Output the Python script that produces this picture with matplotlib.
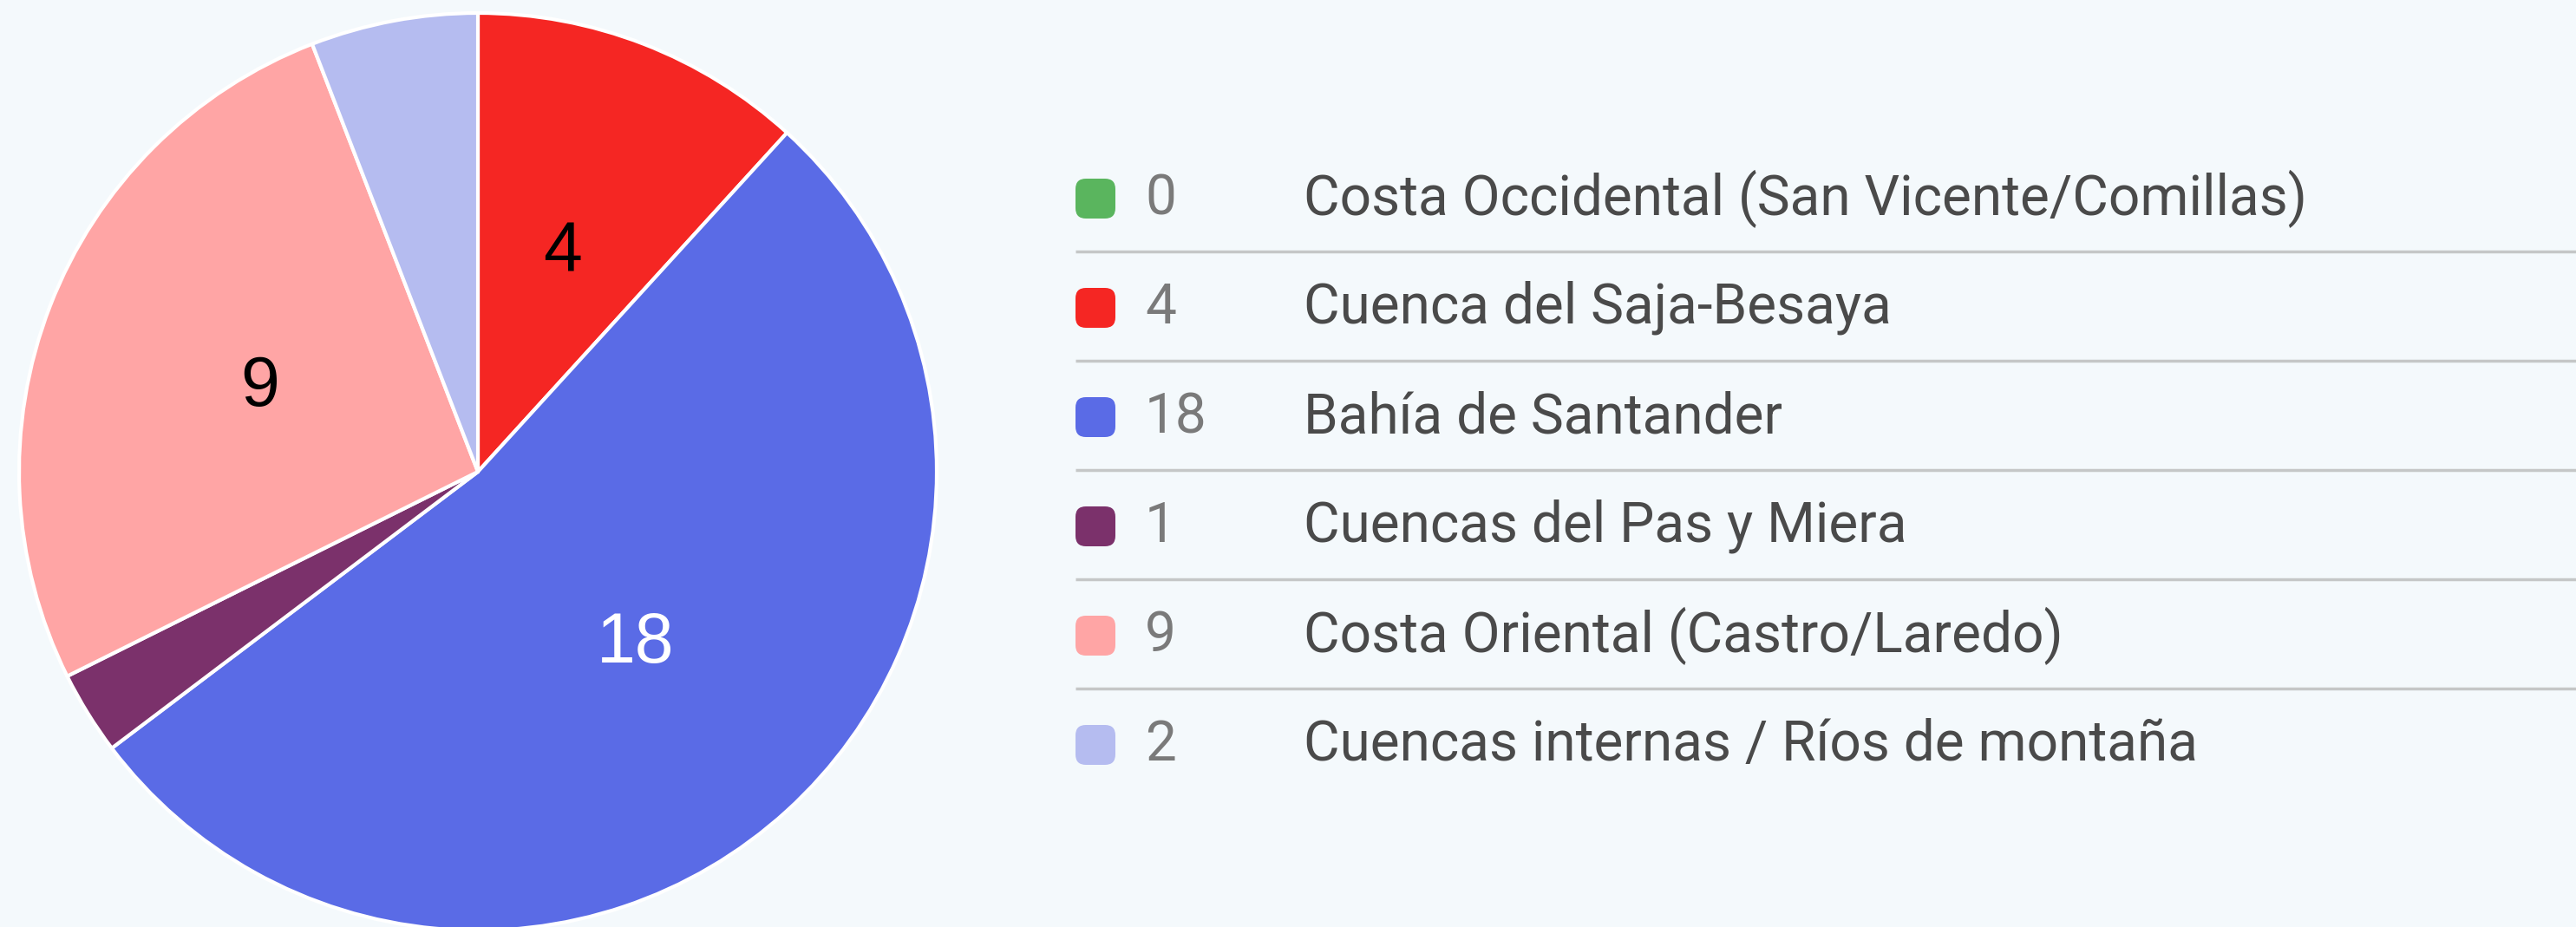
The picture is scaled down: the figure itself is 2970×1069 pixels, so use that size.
import numpy as np
import matplotlib.pyplot as plt
from matplotlib.patches import FancyBboxPatch

regions = ["Costa Occidental (San Vicente/Comillas)", "Cuenca del Saja-Besaya",
           "Bahía de Santander", "Cuencas del Pas y Miera",
           "Costa Oriental (Castro/Laredo)", "Cuencas internas / Ríos de montaña"]
counts = [0, 4, 18, 1, 9, 2]
colors = ["#5ab55e", "#f52623", "#5a6be6", "#7b316b", "#ffa5a5", "#b5bcf0"]
label_colors = ["black", "black", "white", "white", "black", "black"]

W, H = 2970, 1069
bg = "#f4f9fc"
fig = plt.figure(figsize=(W / 100, H / 100), dpi=100, facecolor=bg)

# pie, center (551, 544) px, radius 529 px
cx, cy, r = 551, 544, 529
ax = fig.add_axes([(cx - r) / W, (H - cy - r) / H, 2 * r / W, 2 * r / H])
ax.set_facecolor(bg)
wedges, _ = ax.pie(counts, colors=colors, startangle=90, counterclock=False,
                   radius=1, wedgeprops=dict(edgecolor="white", linewidth=3,
                                             joinstyle="round"))
for w, n, tc in zip(wedges, counts, label_colors):
    if n <= 2:  # small slices carry no label
        continue
    ang = np.deg2rad((w.theta1 + w.theta2) / 2)
    ax.text(0.51 * np.cos(ang), 0.51 * np.sin(ang), str(n), ha="center", va="center",
            fontsize=58, color=tc, family="Liberation Sans")
ax.set_xlim(-1, 1)
ax.set_ylim(-1, 1)
ax.axis("off")

# legend overlay in pixel coordinates
lg = fig.add_axes([0, 0, 1, 1], facecolor="none")
lg.set_xlim(0, W)
lg.set_ylim(H, 0)
lg.axis("off")
row_y = [229, 355, 481, 607, 733, 859]
for i, (name, n, c) in enumerate(zip(regions, counts, colors)):
    y = row_y[i]
    lg.add_patch(FancyBboxPatch((1240, y - 23), 46, 46, boxstyle="round,pad=0,rounding_size=12",
                                facecolor=c, edgecolor="none"))
    lg.text(1320, y, str(n), ha="left", va="center", fontsize=46, color="#7a7a7a", family="Roboto")
    lg.text(1503, y, name, ha="left", va="center", fontsize=46, color="#4a4a4a", family="Roboto")
    if i < len(regions) - 1:
        lg.plot([1240, W], [y + 61, y + 61], color="#c5c7c7", linewidth=2.5, solid_capstyle="butt")

fig.savefig("out.png", dpi=100, facecolor=bg)
